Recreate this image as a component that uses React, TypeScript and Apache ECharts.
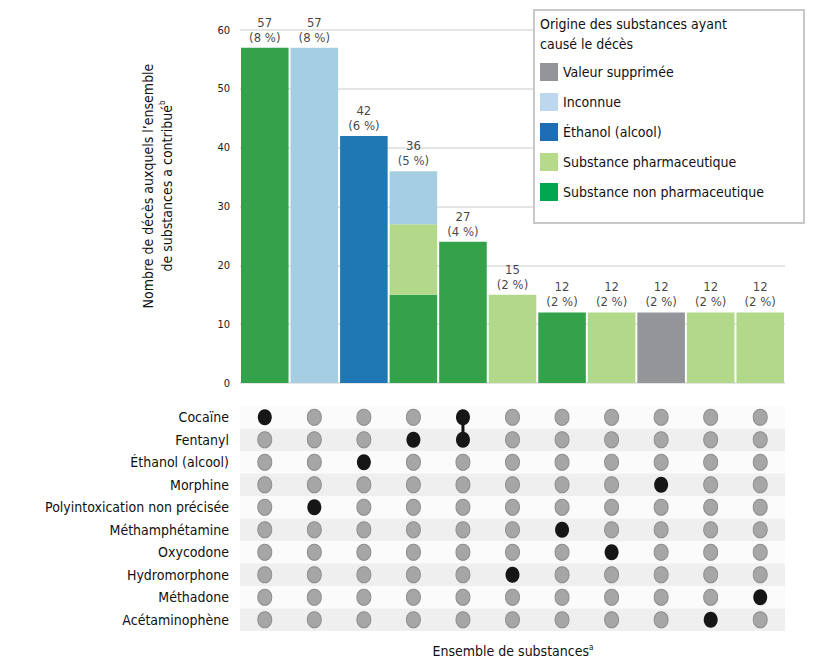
import React, { useEffect, useRef } from "react";
import * as echarts from "echarts";

const FONT = "'Liberation Sans Narrow', 'DejaVu Sans Condensed', 'Roboto', sans-serif";

// Intersection sets (columns), in display order
const setNames = [
  "Cocaïne",
  "Polyintoxication non précisée",
  "Éthanol (alcool)",
  "Fentanyl",
  "Cocaïne + Fentanyl",
  "Hydromorphone",
  "Méthamphétamine",
  "Oxycodone",
  "Morphine",
  "Acétaminophène",
  "Méthadone",
];

// Substances (matrix rows), top to bottom
const substances = [
  "Cocaïne",
  "Fentanyl",
  "Éthanol (alcool)",
  "Morphine",
  "Polyintoxication non précisée",
  "Méthamphétamine",
  "Oxycodone",
  "Hydromorphone",
  "Méthadone",
  "Acétaminophène",
];

// Row indices (in substances) belonging to each set
const setMembers = [[0], [4], [2], [1], [0, 1], [7], [5], [6], [3], [9], [8]];

// Bar segments by origin
const nonPharm = [57, null, null, 15, 24, null, 12, null, null, null, null];
const pharm = [null, null, null, 12, null, 15, null, 12, null, 12, 12];
const ethanol = [null, null, 42, null, null, null, null, null, null, null, null];
const unknown = [null, 57, null, 9, null, null, null, null, null, null, null];
const suppressed = [null, null, null, null, null, null, null, null, 12, null, null];

// Bar labels
const labelCounts = [57, 57, 42, 36, 27, 15, 12, 12, 12, 12, 12];
const labelPcts = [8, 8, 6, 5, 4, 2, 2, 2, 2, 2, 2];

const yTicks = { min: 0, max: 60, interval: 10 };

const originNames = [
  "Valeur supprimée",
  "Inconnue",
  "Éthanol (alcool)",
  "Substance pharmaceutique",
  "Substance non pharmaceutique",
];

const barColors: Record<string, string> = {
  "Valeur supprimée": "#939598",
  "Inconnue": "#a6cee3",
  "Éthanol (alcool)": "#1f78b4",
  "Substance pharmaceutique": "#b2d98a",
  "Substance non pharmaceutique": "#33a24a",
};
const legendColors: Record<string, string> = {
  "Valeur supprimée": "#939598",
  "Inconnue": "#bdd7ee",
  "Éthanol (alcool)": "#1f6db5",
  "Substance pharmaceutique": "#b6d98a",
  "Substance non pharmaceutique": "#00a650",
};

export default function App() {
  const ref = useRef<HTMLDivElement>(null);
  useEffect(() => {
    if (!ref.current) return;
    const chart = echarts.init(ref.current, undefined, { renderer: "svg" });

    const seriesData: Record<string, (number | null)[]> = {
      "Substance non pharmaceutique": nonPharm,
      "Substance pharmaceutique": pharm,
      "Éthanol (alcool)": ethanol,
      "Inconnue": unknown,
      "Valeur supprimée": suppressed,
    };
    const stackOrder = [
      "Substance non pharmaceutique",
      "Substance pharmaceutique",
      "Éthanol (alcool)",
      "Inconnue",
      "Valeur supprimée",
    ];

    const totals = setNames.map((_, i) =>
      stackOrder.reduce((s, k) => s + (seriesData[k][i] || 0), 0)
    );

    const barSeries = stackOrder.map((name) => ({
      name,
      type: "bar",
      stack: "total",
      xAxisIndex: 0,
      yAxisIndex: 0,
      barCategoryGap: "4%",
      itemStyle: { color: barColors[name] },
      data: seriesData[name],
    }));

    const grayDots: number[][] = [];
    const blackDots: number[][] = [];
    setNames.forEach((_, i) => {
      substances.forEach((_, r) => {
        if (setMembers[i].includes(r)) blackDots.push([i, r]);
        else grayDots.push([i, r]);
      });
    });

    const lineSeries = setMembers
      .map((m, i) => ({ m, i }))
      .filter((o) => o.m.length > 1)
      .map((o) => ({
        type: "line",
        xAxisIndex: 1,
        yAxisIndex: 1,
        symbol: "none",
        silent: true,
        z: 3,
        lineStyle: { color: "#111", width: 3 },
        data: [
          [o.i, Math.min(...o.m)],
          [o.i, Math.max(...o.m)],
        ],
      }));

    const option = {
      animation: false,
      textStyle: { fontFamily: FONT },
      grid: [
        { left: 240, width: 545, top: 30, height: 353 },
        { left: 240, width: 545, top: 406, height: 225 },
      ],
      xAxis: [
        {
          type: "category",
          gridIndex: 0,
          data: setNames,
          axisLine: { show: false },
          axisTick: { show: false },
          axisLabel: { show: false },
        },
        {
          type: "category",
          gridIndex: 1,
          data: setNames,
          axisLine: { show: false },
          axisTick: { show: false },
          axisLabel: { show: false },
        },
      ],
      yAxis: [
        {
          type: "value",
          gridIndex: 0,
          min: yTicks.min,
          max: yTicks.max,
          interval: yTicks.interval,
          axisLine: { show: false },
          axisTick: { show: false },
          axisLabel: { color: "#222", fontSize: 11, fontFamily: FONT, margin: 10 },
          splitLine: { lineStyle: { color: "#dcdcdc", width: 1.5 } },
        },
        {
          type: "category",
          gridIndex: 1,
          data: substances,
          inverse: true,
          axisLine: { show: false },
          axisTick: { show: false },
          axisLabel: { color: "#111", fontSize: 14, fontFamily: FONT, margin: 11 },
          splitArea: { show: true, areaStyle: { color: ["#fbfbfb", "#efefef"] } },
        },
      ],
      legend: {
        left: 534,
        top: 10,
        orient: "vertical",
        padding: [53, 20, 21, 6],
        itemWidth: 18,
        itemHeight: 18,
        itemGap: 12,
        icon: "rect",
        borderWidth: 0,
        z: 10,
        textStyle: { fontSize: 14, color: "#111", fontFamily: FONT },
        data: originNames.map((n) => ({ name: n, itemStyle: { color: legendColors[n] } })),
      },
      graphic: [
        {
          type: "rect",
          z: 8,
          shape: { x: 534, y: 10, width: 270, height: 213 },
          style: { fill: "#fff", stroke: "#c8c8c8", lineWidth: 2 },
        },
        {
          type: "text",
          z: 11,
          x: 540,
          y: 14,
          style: {
            text: "Origine des substances ayant\ncausé le décès",
            fontSize: 14,
            lineHeight: 20,
            fill: "#111",
            fontFamily: FONT,
          },
        },
        {
          type: "text",
          z: 11,
          x: 157,
          y: 186,
          rotation: Math.PI / 2,
          style: {
            text: "{a|Nombre de décès auxquels l’ensemble}\n{a|de substances a contribué}{s|b}",
            align: "center",
            verticalAlign: "middle",
            lineHeight: 19,
            fill: "#111",
            rich: {
              a: { fontSize: 14, fontFamily: FONT, fill: "#111", lineHeight: 19 },
              s: { fontSize: 8, fontFamily: FONT, fill: "#111", padding: [0, 0, 8, 0], lineHeight: 19 },
            },
          },
        },
        {
          type: "text",
          z: 11,
          x: 513,
          y: 651,
          style: {
            text: "{a|Ensemble de substances}{s|a}",
            align: "center",
            verticalAlign: "middle",
            rich: {
              a: { fontSize: 14, fontFamily: FONT, fill: "#111" },
              s: { fontSize: 8, fontFamily: FONT, fill: "#111", padding: [0, 0, 8, 0] },
            },
          },
        },
      ],
      series: [
        ...barSeries,
        {
          type: "scatter",
          xAxisIndex: 0,
          yAxisIndex: 0,
          symbolSize: 0,
          silent: true,
          data: totals.map((t, i) => [i, t]),
          label: {
            show: true,
            position: "top",
            distance: 3,
            color: "#111",
            fontSize: 13,
            lineHeight: 15,
            fontFamily: FONT,
            formatter: (p: any) =>
              `${labelCounts[p.dataIndex]}\n(${labelPcts[p.dataIndex]} %)`,
          },
        },
        ...lineSeries,
        {
          type: "scatter",
          xAxisIndex: 1,
          yAxisIndex: 1,
          symbol: "circle",
          symbolSize: [14, 16],
          silent: true,
          itemStyle: { color: "#a6a6a6", borderColor: "#8c8c8c", borderWidth: 1, opacity: 1 },
          data: grayDots,
        },
        {
          type: "scatter",
          xAxisIndex: 1,
          yAxisIndex: 1,
          symbol: "circle",
          symbolSize: [14, 16],
          silent: true,
          z: 4,
          itemStyle: { color: "#161616", opacity: 1 },
          data: blackDots,
        },
      ],
    };

    chart.setOption(option as any);
    return () => chart.dispose();
  }, []);

  return (
    <div
      ref={ref}
      style={{ position: "absolute", left: 0, top: 0, width: 824, height: 672 }}
    />
  );
}
